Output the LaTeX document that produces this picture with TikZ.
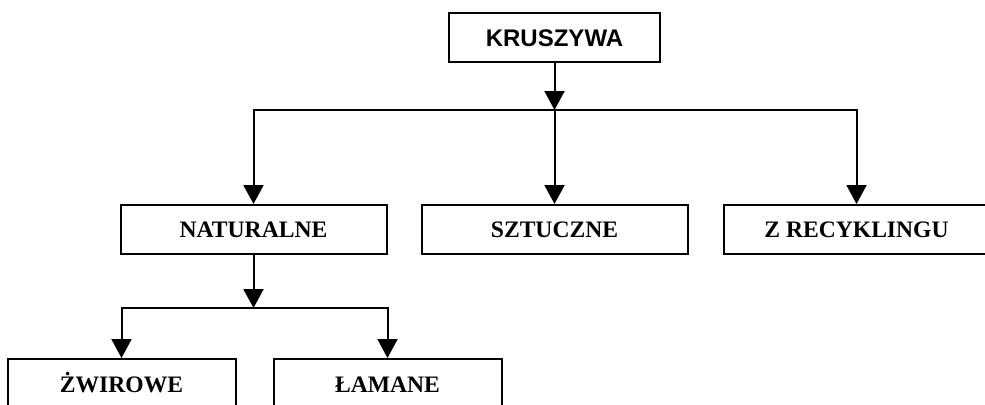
\documentclass[tikz,border=0pt]{standalone}
\usepackage{fontspec}
\setmainfont{Liberation Serif}
\setsansfont{Liberation Sans}
\usetikzlibrary{positioning,arrows.meta}

\tikzset{
	kind/.style={draw, line width=1pt, minimum width=133pt, minimum height=24.5pt, inner sep=0pt,
		text height=7.8pt, text depth=0pt, font=\fontsize{11.8}{13}\selectfont\bfseries},
	root/.style={kind, minimum width=105.5pt, text height=8.5pt, font=\fontsize{12}{13}\selectfont\sffamily\bfseries},
	sub/.style={kind, minimum width=114pt, minimum height=26pt},
	arr/.style={line width=1pt, -{Triangle[width=10pt,length=9.5pt]}}
}

\begin{document}
\begin{tikzpicture}
			\useasboundingbox (0,0) rectangle (492.5pt,-202pt);
			\node[root] (kruszywa) at (277.25pt,-18.75pt) {KRUSZYWA};
			\node[kind, below=70.5pt of kruszywa] (sztuczne) {SZTUCZNE};
			\node[kind, left=16.5pt of sztuczne] (naturalne) {NATURALNE};
			\node[kind, right=17pt of sztuczne] (recykling) {Z RECYKLINGU};
			\node[sub, below=51.5pt of naturalne, xshift=-66pt] (zwirowe) {ŻWIROWE};
			\node[sub, below=51.5pt of naturalne, xshift=67pt] (lamane) {ŁAMANE};
			
			\coordinate[below=23.5pt of kruszywa] (split top);
			\coordinate[below=26.5pt of naturalne] (split low);
			
			\draw[arr] (kruszywa) -- (split top);
			\draw[arr] (split top) -| (naturalne);
			\draw[arr] (split top) -- (sztuczne);
			\draw[arr] (split top) -| (recykling);
			
			\draw[arr] (naturalne) -- (split low);
			\draw[arr] (split low) -| (zwirowe);
			\draw[arr] (split low) -| (lamane);
\end{tikzpicture}
\end{document}
